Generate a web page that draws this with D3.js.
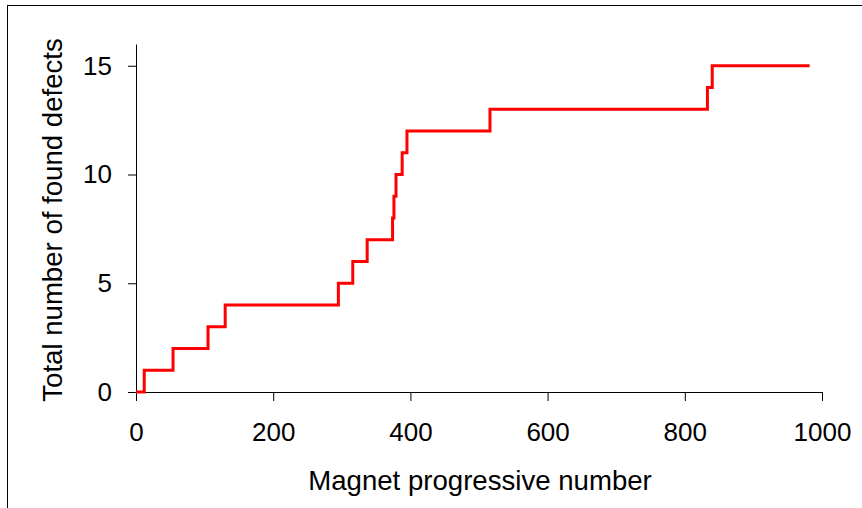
<!DOCTYPE html>
<html>
<head>
<meta charset="utf-8">
<script src="https://cdn.jsdelivr.net/npm/d3@7"></script>
<style>
html, body { margin: 0; padding: 0; background: #fff; }
svg { display: block; font-family: "Liberation Sans", Arial, sans-serif; }
</style>
</head>
<body>
<svg id="chart" width="862" height="508"></svg>
<script>
// Data: magnet progressive number at which the cumulative defect count steps up
const magnetNumber = [0, 12, 54, 105, 130, 295, 316, 337, 374, 376, 379, 388, 395, 516, 833, 840, 982];
const totalDefects = [0, 1, 2, 3, 4, 5, 6, 7, 8, 9, 10, 11, 12, 13, 14, 15, 15];
const xTicks = [0, 200, 400, 600, 800, 1000];
const yTicks = [0, 5, 10, 15];
const xTitle = "Magnet progressive number";
const yTitle = "Total number of found defects";

(function () {
const svg = d3.select("#chart");
const W = 862, H = 508;

// outer frame
svg.append("rect")
  .attr("x", 7.5).attr("y", 5.5)
  .attr("width", W + 10).attr("height", H + 10)
  .attr("fill", "none").attr("stroke", "#000").attr("stroke-width", 1);

const mLeft = 136, mRight = 822, mTop = 44, mBottom = 392;
const x = d3.scaleLinear().domain([0, 1000]).range([mLeft, mRight]);
const y = d3.scaleLinear().domain([0, 16]).range([mBottom, mTop]);

// x axis
const xAxis = d3.axisBottom(x).tickValues(xTicks).tickFormat(d3.format("d"))
  .tickSize(9).tickPadding(22).tickSizeOuter(0);
const gx = svg.append("g").attr("transform", `translate(0,${mBottom})`).call(xAxis);
gx.select(".domain").attr("stroke", "#000");
gx.selectAll(".tick line").attr("stroke", "#000");
gx.selectAll(".tick text")
  .attr("font-size", 26).attr("fill", "#000")
  .attr("font-family", '"Liberation Sans", Arial, sans-serif');

// y axis
const yAxis = d3.axisLeft(y).tickValues(yTicks).tickFormat(d3.format("d"))
  .tickSize(8).tickPadding(16).tickSizeOuter(0);
const gy = svg.append("g").attr("transform", `translate(${mLeft},0)`).call(yAxis);
gy.select(".domain").attr("stroke", "#000");
gy.selectAll(".tick line").attr("stroke", "#000");
gy.selectAll(".tick text")
  .attr("font-size", 26).attr("fill", "#000")
  .attr("font-family", '"Liberation Sans", Arial, sans-serif');

// step line
const pts = magnetNumber.map((m, i) => [m, totalDefects[i]]);
const line = d3.line()
  .x(d => x(d[0]))
  .y(d => y(d[1]))
  .curve(d3.curveStepAfter);
svg.append("path")
  .datum(pts)
  .attr("d", line)
  .attr("fill", "none")
  .attr("stroke", "#ff0000")
  .attr("stroke-width", 3)
  .attr("stroke-linejoin", "miter");

// titles
svg.append("text")
  .attr("x", 480)
  .attr("y", 490)
  .attr("text-anchor", "middle")
  .attr("font-size", 27.6)
  .attr("fill", "#000")
  .text(xTitle);

svg.append("text")
  .attr("transform", `translate(62,${(38 + 402) / 2}) rotate(-90)`)
  .attr("text-anchor", "middle")
  .attr("font-size", 27.6)
  .attr("fill", "#000")
  .text(yTitle);
})();
</script>
</body>
</html>
